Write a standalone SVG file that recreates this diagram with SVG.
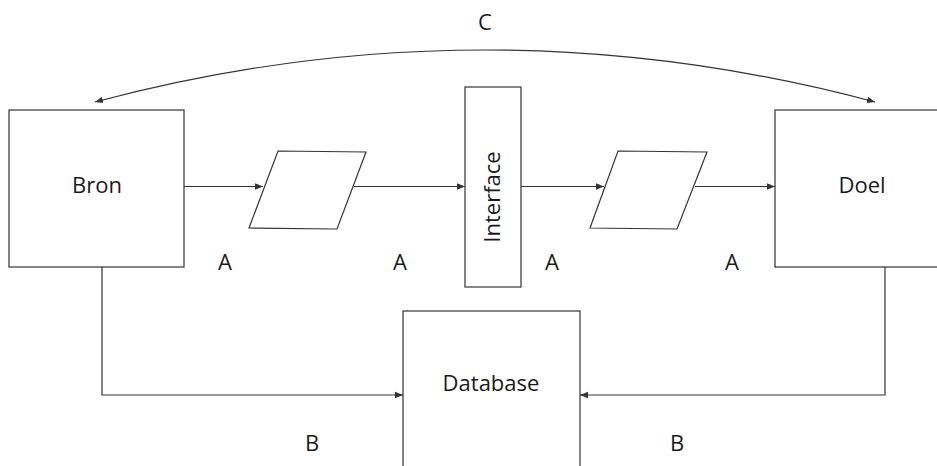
<svg xmlns="http://www.w3.org/2000/svg" width="937" height="466" viewBox="0 0 937 466">
<style>
.box{fill:#fff;stroke:#333;stroke-width:1.2}
.ln{fill:none;stroke:#333;stroke-width:1.2}
text{font-family:"Open Sans","Noto Sans","Liberation Sans",sans-serif;font-size:22px;fill:#1a1a1a}
</style>
<defs>
<marker id="ah" viewBox="0 0 10 10" refX="10" refY="5" markerWidth="8" markerHeight="8" markerUnits="userSpaceOnUse" orient="auto-start-reverse">
<path d="M0,1 L10,5 L0,9 z" fill="#333"/>
</marker>
</defs>
<rect width="937" height="466" fill="#fff"/>
<g id="connectors">
<path class="ln" d="M95,102 Q485,-2 875,102" marker-start="url(#ah)" marker-end="url(#ah)"/>
<line class="ln" x1="184" y1="186.5" x2="263" y2="186.5" marker-end="url(#ah)"/>
<line class="ln" x1="354" y1="186.5" x2="465" y2="186.5" marker-end="url(#ah)"/>
<line class="ln" x1="521" y1="186.5" x2="604" y2="186.5" marker-end="url(#ah)"/>
<line class="ln" x1="695" y1="186.5" x2="775" y2="186.5" marker-end="url(#ah)"/>
<polyline class="ln" points="102,267 102,395 403,395" marker-end="url(#ah)"/>
<polyline class="ln" points="885,267 885,395 580,395" marker-end="url(#ah)"/>
</g>
<g id="bron"><rect class="box" x="9" y="110" width="175" height="157"/><text x="97" y="193" text-anchor="middle">Bron</text></g>
<g id="para1"><polygon class="box" points="278,151 366,152 337,229 249,228"/></g>
<g id="interface"><rect class="box" x="465" y="87" width="56" height="200"/><text transform="translate(500,197) rotate(-90)" text-anchor="middle">Interface</text></g>
<g id="para2"><polygon class="box" points="618,151 707,152 677,229 590,228"/></g>
<g id="doel"><rect class="box" x="775" y="110" width="170" height="157"/><text x="862" y="193" text-anchor="middle">Doel</text></g>
<g id="database"><rect class="box" x="403" y="311" width="177" height="170"/><text x="491" y="391" text-anchor="middle">Database</text></g>
<g id="labels">
<text x="485" y="30" text-anchor="middle">C</text>
<text x="225" y="270" text-anchor="middle">A</text>
<text x="400" y="270" text-anchor="middle">A</text>
<text x="552" y="270" text-anchor="middle">A</text>
<text x="732" y="270" text-anchor="middle">A</text>
<text x="312" y="451" text-anchor="middle">B</text>
<text x="677" y="451" text-anchor="middle">B</text>
</g>
</svg>
